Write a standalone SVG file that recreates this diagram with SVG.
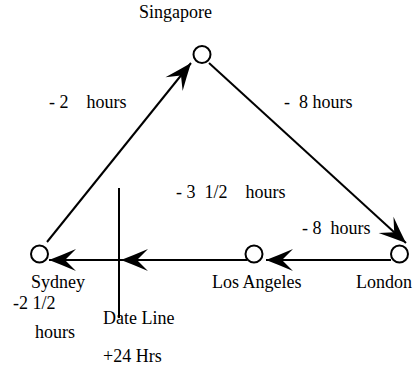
<svg xmlns="http://www.w3.org/2000/svg" width="413" height="367" viewBox="0 0 413 367">
<style>
.node{fill:#fff;stroke:#000;stroke-width:2}
.edge{fill:none;stroke:#000;stroke-width:2;marker-end:url(#ah)}
.plain{fill:none;stroke:#000;stroke-width:2}
</style>
<defs>
<marker id="ah" markerUnits="userSpaceOnUse" markerWidth="32" markerHeight="26" viewBox="-2 -13 32 26" refX="27" refY="0" orient="auto">
<path d="M27,0 Q14,-5 0,-11 L11,0 L0,11 Q14,5 27,0 Z" fill="#000"/>
</marker>
</defs>
<g font-family="'Liberation Serif', 'Times New Roman', serif" font-size="18" fill="#000">
<g id="connectors">
<path class="edge" d="M47,242 L191,63"/>
<path class="edge" d="M209,63 L406,243"/>
<path class="edge" d="M391,260 L266,260"/>
<path class="edge" d="M247,260 L121,260"/>
<path class="edge" d="M121,260 L49,260"/>
</g>
<g id="dateline">
<path class="plain" d="M119,188 L119,318"/>
<text x="103" y="324">Date Line</text>
<text x="103" y="362">+24 Hrs</text>
</g>
<g id="singapore">
<circle class="node" cx="202" cy="54.5" r="8.5"/>
<text x="139" y="18">Singapore</text>
</g>
<g id="sydney">
<circle class="node" cx="39.5" cy="254" r="8.5"/>
<text x="31" y="288">Sydney</text>
</g>
<g id="losangeles">
<circle class="node" cx="254" cy="254" r="8.5"/>
<text x="212" y="288">Los Angeles</text>
</g>
<g id="london">
<circle class="node" cx="399.5" cy="254" r="8.5"/>
<text x="356" y="288">London</text>
</g>
<g id="labels">
<text x="49" y="108" xml:space="preserve">- 2    hours</text>
<text x="284" y="108" xml:space="preserve">-  8 hours</text>
<text x="176" y="198" xml:space="preserve">- 3  1/2    hours</text>
<text x="302" y="234" xml:space="preserve">- 8  hours</text>
<text x="13" y="309">-2 1/2</text>
<text x="35" y="338">hours</text>
</g>
</g>
</svg>
